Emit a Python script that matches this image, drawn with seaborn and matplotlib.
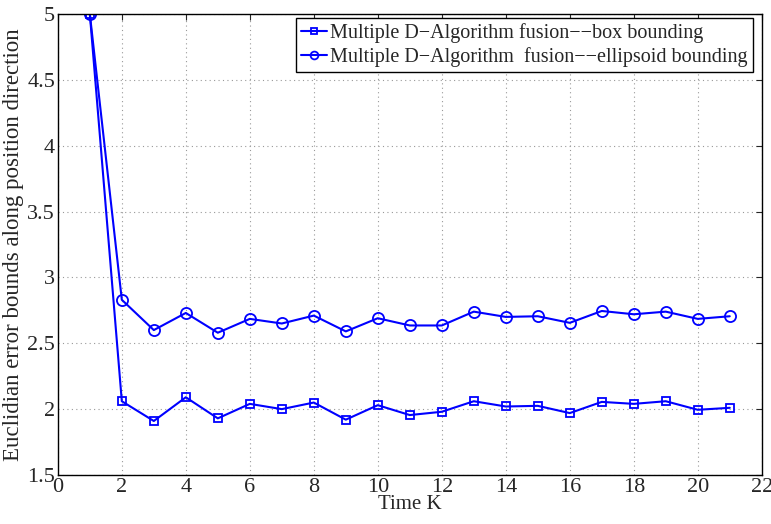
import matplotlib.pyplot as plt
import pandas as pd
import seaborn as sns

plt.switch_backend('agg')

BLUE = '#0000ff'

time_k = list(range(1, 22))
box_bound = [5.0, 2.06, 1.91, 2.09, 1.93, 2.04, 2.00, 2.05, 1.92, 2.03, 1.955,
             1.98, 2.06, 2.02, 2.025, 1.97, 2.055, 2.04, 2.06, 1.995, 2.01]
ellipsoid_bound = [5.0, 2.83, 2.60, 2.73, 2.58, 2.685, 2.65, 2.71, 2.59, 2.69, 2.635,
                   2.635, 2.74, 2.70, 2.705, 2.655, 2.745, 2.72, 2.74, 2.685, 2.705]
series_names = ['Multiple D\u2212Algorithm fusion\u2212\u2212box bounding',
                'Multiple D\u2212Algorithm  fusion\u2212\u2212ellipsoid bounding']
x_ticks = list(range(0, 23, 2))
y_ticks = [1.5, 2, 2.5, 3, 3.5, 4, 4.5, 5]

sns.set_style('white')
plt.rcParams['font.family'] = ['Liberation Serif', 'DejaVu Serif']

fig = plt.figure(figsize=(7.71, 5.24), dpi=100)
ax = fig.add_axes([0.075, 0.0935, 0.913, 0.88])

box_df = pd.DataFrame({'k': time_k, 'v': box_bound})
ell_df = pd.DataFrame({'k': time_k, 'v': ellipsoid_bound})

sns.lineplot(data=box_df, x='k', y='v', ax=ax, color=BLUE, linewidth=1.5,
             marker='s', markersize=6, markerfacecolor='none', markeredgecolor=BLUE,
             markeredgewidth=1.3, label=series_names[0])
sns.lineplot(data=ell_df, x='k', y='v', ax=ax, color=BLUE, linewidth=1.5,
             marker='o', markersize=8, markerfacecolor='none', markeredgecolor=BLUE,
             markeredgewidth=1.3, label=series_names[1])

ax.set_xlim(0, 22)
ax.set_ylim(1.5, 5)
ax.set_xticks(x_ticks)
ax.set_yticks(y_ticks)
ax.set_yticklabels([('%g' % t) for t in y_ticks])
ax.tick_params(direction='in', length=4, width=0.8, labelsize=16,
               top=True, right=True, pad=2)
ax.grid(True, color='#999999', linestyle=(0, (1, 3)), linewidth=0.8)

for spine in ax.spines.values():
    spine.set_visible(True)
    spine.set_color('black')
    spine.set_linewidth(1.0)

ax.set_xlabel('Time K', fontsize=15, labelpad=-1)
ax.set_ylabel('Euclidian error bounds along position direction', fontsize=16.5,
              labelpad=2)

leg = ax.legend(loc='upper right', bbox_to_anchor=(0.99, 0.995), fontsize=14.5,
                frameon=True, fancybox=False, framealpha=1, edgecolor='black',
                borderpad=0.25, labelspacing=0.2, handlelength=1.3,
                handletextpad=0.15, borderaxespad=0.1, markerscale=0.7)
leg.get_frame().set_linewidth(1.0)

fig.savefig('out.png', dpi=100)
